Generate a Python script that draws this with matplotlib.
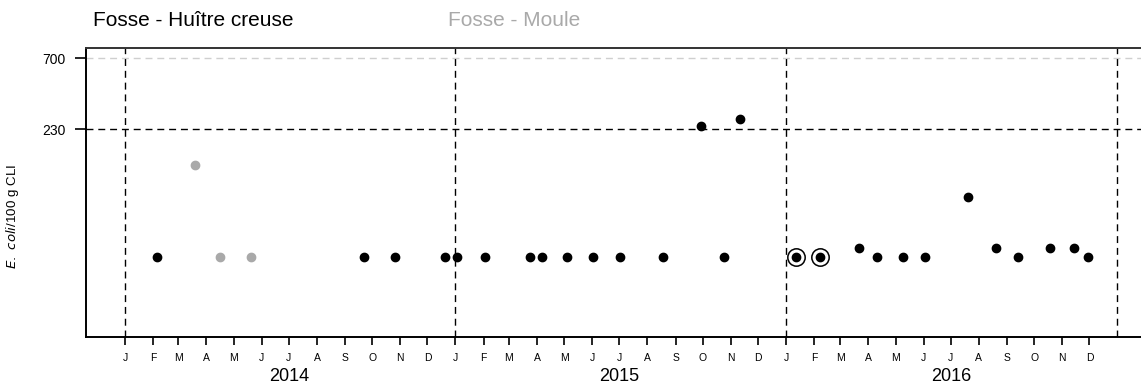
import datetime as dt
import matplotlib
matplotlib.use("Agg")
import matplotlib.pyplot as plt
from matplotlib.transforms import blended_transform_factory

plt.rcParams["font.family"] = ["Liberation Sans", "DejaVu Sans"]

# Fosse - Huître creuse (E. coli / 100 g CLI)
huitre_dates = [
    "2014-02-05", "2014-09-22", "2014-10-26", "2014-12-20", "2015-01-03",
    "2015-02-03", "2015-03-24", "2015-04-06", "2015-05-04", "2015-06-02",
    "2015-07-02", "2015-08-18", "2015-09-29", "2015-10-25", "2015-11-11",
    "2016-01-12", "2016-02-08", "2016-03-22", "2016-04-11", "2016-05-09",
    "2016-06-03", "2016-07-20", "2016-08-20", "2016-09-13", "2016-10-19",
    "2016-11-14", "2016-11-29",
]
huitre_values = [
    31, 31, 31, 31, 31,
    31, 31, 31, 31, 31,
    31, 31, 242, 31, 270,
    31, 31, 36, 31, 31,
    31, 80, 36, 31, 36,
    36, 31,
]
# samples flagged with a ring
flagged_dates = ["2016-01-12", "2016-02-08"]

# Fosse - Moule
moule_dates = ["2014-03-19", "2014-04-16", "2014-05-20"]
moule_values = [131, 31, 31]

thresholds = [230, 700]
years = [2014, 2015, 2016]
month_letters = ["J", "F", "M", "A", "M", "J", "J", "A", "S", "O", "N", "D"]


def to_dates(strs):
    return [dt.datetime.strptime(s, "%Y-%m-%d") for s in strs]


fig = plt.figure(figsize=(11.41, 3.85), dpi=100)
ax = fig.add_axes([0.0754, 0.1255, 0.9246, 0.7506])

hd = to_dates(huitre_dates)
ax.plot(hd, huitre_values, "o", color="black", ms=6, zorder=4)
ax.plot(to_dates(moule_dates), moule_values, "o", color="#a9a9a9", ms=6, zorder=4)

fl = to_dates(flagged_dates)
fl_vals = [huitre_values[huitre_dates.index(d)] for d in flagged_dates]
ax.plot(fl, fl_vals, "o", mfc="none", mec="black", ms=12.5, mew=1.1, zorder=4)

ax.set_yscale("log")
ax.set_ylim(8.9, 827)
ax.set_xlim(dt.datetime(2013, 11, 19), dt.datetime(2017, 1, 27))

# reference levels
ax.axhline(thresholds[0], color="black", ls=(0, (5, 3.5)), lw=1.0, zorder=2)
ax.axhline(thresholds[1], color="#cfcfcf", ls=(0, (5, 3.5)), lw=1.0, zorder=2)
for y in years + [years[-1] + 1]:
    ax.axvline(dt.datetime(y, 1, 1), color="black", ls=(0, (5, 3.5)), lw=1.0, zorder=2)

ax.set_yticks(thresholds)
ax.set_yticklabels([str(t) for t in thresholds])
ax.yaxis.set_minor_locator(matplotlib.ticker.NullLocator())
ax.tick_params(axis="y", direction="out", length=8, width=1.2, labelsize=10, pad=7)

month_ticks = [dt.datetime(y, m, 1) for y in years for m in range(1, 13)]
ax.set_xticks(month_ticks)
ax.set_xticklabels(month_letters * len(years))
ax.tick_params(axis="x", direction="out", length=5.5, width=1.2, labelsize=7.5, pad=6)

# year labels under the month letters
year_tr = blended_transform_factory(ax.transData, fig.transFigure)
for y in years:
    ax.text(dt.datetime(y, 7, 1), 1 - 376.5 / 385, str(y), transform=year_tr,
            ha="center", va="center", fontsize=13)

for side in ["left", "bottom", "top"]:
    ax.spines[side].set_linewidth(1.4)
ax.spines["top"].set_color("#333333")
ax.spines["right"].set_visible(False)

ax.set_ylabel(r"$\it{E.\ coli}$/100 g CLI", fontsize=9.6)
ax.yaxis.set_label_coords(13 / 1141, 1 - 216 / 385, transform=fig.transFigure)
ax.yaxis.label.set_va("center")

fig.text(93 / 1141, 1 - 20 / 385, "Fosse - Huître creuse", fontsize=15,
         ha="left", va="center", color="black")
fig.text(448 / 1141, 1 - 20 / 385, "Fosse - Moule", fontsize=15,
         ha="left", va="center", color="#a9a9a9")

fig.savefig("out.png", dpi=100)
